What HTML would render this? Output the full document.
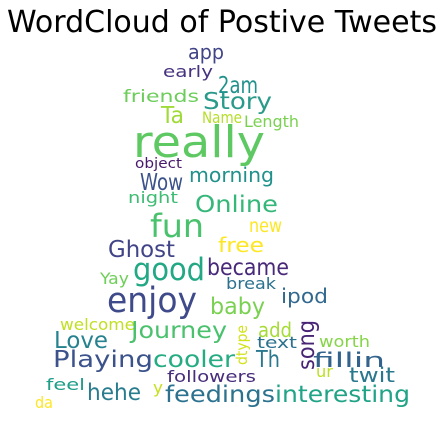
<!DOCTYPE html>
<html><head><meta charset="utf-8"><style>
html,body{margin:0;padding:0;background:#fff;width:444px;height:424px;overflow:hidden}
svg text{font-family:"DejaVu Sans","Liberation Sans",sans-serif}
</style></head><body>
<svg id="cloud" width="444" height="424" viewBox="0 0 444 424">
<text x="7" y="32" font-size="30" fill="#000" textLength="430" lengthAdjust="spacingAndGlyphs">WordCloud of Postive Tweets</text>
<g id="words"></g>
</svg>
<script>
const words=["app","early","2am","friends","Story","Ta","Name","Length","really","object","Wow","morning","night","Online","fun","new","Ghost","free","good","became","Yay","break","enjoy","ipod","baby","welcome","Journey","add","Love","text","worth","Playing","cooler","Th","fillin","ur","followers","twit","feel","hehe","y","feedings","interesting","da","dtype","song"];
const weights=[18,14,20,15,20,20,14,14,38,12,20,18,14,20,28,16,20,18,27,20,14,14,30,18,20,14,20,18,20,14,14,20,20,20,18,14,14,18,14,20,14,20,20,14,13,20];
const colors=["#414487","#46327e","#21918c","#6ccd5a","#2a9a8a","#a0da39","#b5de2b","#7ad151","#5ec962","#481a6c","#3b528b","#21918c","#3fbc73","#35b779","#4ac16d","#fde725","#414487","#fde725","#22a884","#482878","#6ece58","#2c728e","#3e4a89","#31688e","#7ad151","#c2df23","#4ac16d","#a5db36","#26828e","#2c728e","#86d549","#3b528b","#25ac82","#2a788e","#33638d","#bddf26","#472d7b","#2a788e","#1f9e89","#287c8e","#c8e020","#2c728e","#20a386","#fde725","#d2e21b","#482475"];
const layout=[[188,59,36],[163,77,50],[218,93,40],[123,102,76],[203,109,69],[161,123,23],[202,123,40],[244,127,55],[133,157,132],[135,168,47],[140,190,43],[189,182,85],[128,203,50],[195,212,83],[150,237,54],[249,232,33],[108,257,67],[218,252,46],[133,280,72],[207,275,82],[100,284,29],[226,289,50],[107,312,90],[281,303,47],[210,314,55],[60,330,75],[131,338,96],[258,337,34],[54,348,54],[257,348,40],[319,347,51],[53,367,100],[153,367,82],[256,367,24],[313,367,72],[316,377,17],[167,382,89],[349,382,46],[46,390,39],[87,400,54],[153,393,10],[165,402,110],[275,402,135],[35,408,18],[247,365,40],[314,370,50]];
const SCALE=1.15;
const g=document.getElementById('words');
const NS="http://www.w3.org/2000/svg";
words.forEach((w,i)=>{
  const t=document.createElementNS(NS,'text');
  const [x,y,len]=layout[i];
  
  
  t.setAttribute('font-size',weights[i]*SCALE);
  t.setAttribute('fill',colors[i]);
  t.setAttribute('textLength',len);
  t.setAttribute('lengthAdjust','spacingAndGlyphs');
  if(w==="dtype"||w==="song"){
    t.setAttribute('x',0);t.setAttribute('y',0);
    t.setAttribute('transform','translate('+x+','+y+') rotate(-90)');
  }else{
    t.setAttribute('x',x);t.setAttribute('y',y);
  }
  t.textContent=w;
  g.appendChild(t);
});
</script>
</body></html>
